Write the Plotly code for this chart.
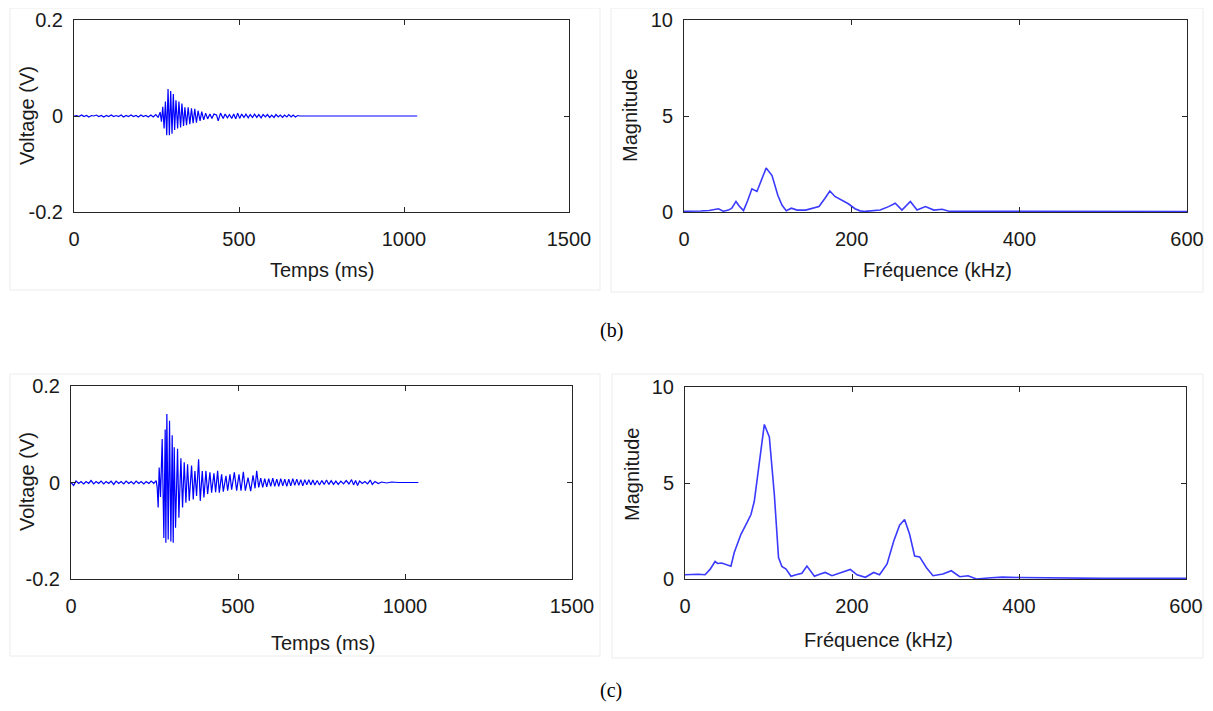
import plotly.graph_objects as go

# ---------------- data ----------------
# (b) time signal
t_b = [0, 8, 15, 23, 30, 38, 45, 53, 60, 68,
       75, 83, 90, 98, 105, 113, 120, 128, 135, 143,
       150, 158, 165, 173, 180, 188, 195, 203, 210, 218,
       225, 233, 240, 248, 255,
       261, 265, 269, 273, 277, 281, 285, 289, 293, 297,
       301, 305, 309, 314, 318, 323, 327, 332, 336, 341,
       346, 351, 356, 361, 366, 371, 376, 382, 387, 393,
       399, 405, 412, 418, 424, 432, 437, 444, 452, 458,
       465, 471, 478, 484, 490, 496, 502, 508, 515, 521,
       528, 534, 541, 547, 554, 560, 567, 573, 580, 586,
       593, 599, 606, 612, 619, 625, 632, 638, 645, 651,
       658, 664, 671, 678, 685, 700, 800, 900, 1040]
v_b = [0, 0.001, -0.001, 0.002, -0.001, 0.001, -0.002, 0.001, 0, 0.002,
       -0.001, 0.001, -0.002, 0.001, -0.001, 0.002, -0.001, 0.001, -0.001, 0.002,
       -0.002, 0.001, -0.001, 0.002, -0.001, 0.001, -0.002, 0.002, -0.001, 0.001,
       -0.002, 0.002, -0.002, 0.003, -0.003,
       0.008, -0.012, 0.019, -0.026, 0.030, -0.040, 0.056, -0.040, 0.052, -0.037,
       0.046, -0.029, 0.033, -0.026, 0.030, -0.024, 0.026, -0.021, 0.018, -0.019,
       0.018, -0.017, 0.016, -0.015, 0.015, -0.014, 0.011, -0.010, 0.009, -0.008,
       0.006, -0.006, 0.004, -0.005, 0.004, 0.002, -0.010, 0.006, -0.005, 0.004,
       -0.004, 0.003, -0.005, 0.004, -0.006, 0.006, -0.005, 0.004, -0.003, 0.004,
       -0.004, 0.003, -0.003, 0.004, -0.003, 0.003, -0.004, 0.003, -0.002, 0.003,
       -0.003, 0.002, -0.003, 0.003, -0.002, 0.002, -0.003, 0.002, -0.002, 0.003,
       -0.002, 0.002, -0.002, 0.001, 0, 0, 0, 0, 0]

# (c) time signal
t_c = [0, 8, 15, 23, 30, 38, 45, 53, 60, 68,
       75, 83, 90, 98, 105, 113, 120, 128, 135, 143,
       150, 158, 165, 173, 180, 188, 195, 203, 210, 218,
       225, 233, 240, 248, 255,
       258, 261, 264, 268, 273, 278, 282, 284, 287, 291,
       295, 299, 303, 306, 309, 313, 319, 323, 329, 334,
       339, 344, 349, 354, 361, 366, 371, 376, 382, 387,
       393, 398, 404, 409, 416, 421, 428, 433, 439, 444,
       451, 456, 464, 469, 476, 481, 489, 496, 503, 509,
       516, 522, 530, 538, 545, 551, 556, 562, 568, 574,
       580, 586, 592, 598, 604, 610, 616, 622, 628, 634,
       640, 646, 652, 658, 664, 670, 676, 682, 688, 694,
       700, 706, 712, 718, 724, 730, 737, 744, 751, 758,
       765, 772, 779, 786, 793, 800, 808, 816, 824, 832,
       840, 846, 852, 858, 864, 872, 880, 888, 896, 902,
       910, 920, 930, 945, 960, 980, 1000, 1040]
v_c = [0, -0.006, 0.003, -0.002, 0.002, -0.003, 0.002, -0.002, 0.004, -0.003,
       0.002, -0.002, 0.003, -0.003, 0.002, -0.002, 0.003, -0.004, 0.003, -0.002,
       0.002, -0.003, 0.003, -0.002, 0.002, -0.003, 0.003, -0.002, 0.002, -0.003,
       0.002, -0.002, 0.003, -0.002, 0.004,
       -0.010, -0.052, 0.031, -0.030, 0.090, -0.115, 0.110, -0.125, 0.142, -0.118,
       0.128, -0.122, 0.098, -0.125, 0.073, -0.094, 0.070, -0.073, 0.050, -0.052,
       0.042, -0.042, 0.038, -0.038, 0.035, -0.035, 0.024, -0.028, 0.048, -0.038,
       0.024, -0.031, 0.024, -0.024, 0.021, -0.021, 0.019, -0.020, 0.024, -0.021,
       0.017, -0.019, 0.014, -0.017, 0.017, -0.015, 0.021, -0.017, 0.017, -0.017,
       0.022, -0.017, 0.010, -0.018, 0.015, -0.012, 0.024, -0.010, 0.009, -0.010,
       0.008, -0.009, 0.008, -0.008, 0.009, -0.008, 0.007, -0.008, 0.008, -0.007,
       0.007, -0.008, 0.007, -0.007, 0.008, -0.006, 0.007, -0.006, 0.006, -0.007,
       0.006, -0.005, 0.006, -0.005, 0.005, -0.005, 0.004, -0.005, 0.004, -0.004,
       0.005, -0.004, 0.004, -0.004, 0.003, -0.004, 0.003, -0.003, 0.004, -0.003,
       0.006, -0.005, 0.004, -0.006, 0.003, -0.002, 0.002, -0.003, 0.005, -0.004,
       0.002, -0.002, 0.001, -0.001, 0.001, 0, 0, 0]

# (b) spectrum
f_b = [0, 10, 20, 30, 36, 41, 47, 53, 57, 62,
       66, 71, 76, 81, 87, 92, 98, 105, 112, 117,
       122, 128, 135, 145, 153, 161, 168, 174, 180, 188,
       196, 204, 210, 216, 225, 234, 244, 252, 260, 270,
       278, 288, 298, 308, 317, 330, 350, 380, 400, 450,
       500, 550, 600]
m_b = [0.04, 0.04, 0.05, 0.08, 0.12, 0.17, 0.04, 0.1, 0.2, 0.55,
       0.3, 0.07, 0.6, 1.21, 1.07, 1.6, 2.29, 1.9, 0.86, 0.35,
       0.07, 0.2, 0.1, 0.1, 0.2, 0.29, 0.7, 1.09, 0.81, 0.6,
       0.43, 0.17, 0.06, 0.03, 0.06, 0.1, 0.28, 0.46, 0.1, 0.55,
       0.1, 0.28, 0.1, 0.14, 0.03, 0.04, 0.03, 0.04, 0.03, 0.02,
       0.02, 0.02, 0.02]

# (c) spectrum
f_c = [0, 8, 16, 24, 30, 36, 39, 44, 50, 55,
       59, 67, 75, 79, 83, 89, 95, 101, 107, 112,
       116, 121, 127, 133, 140, 146, 151, 155, 162, 168,
       176, 184, 191, 198, 206, 216, 226, 233, 242, 250,
       257, 263, 269, 275, 281, 289, 297, 309, 319, 329,
       339, 349, 363, 380, 400, 450, 500, 550, 600]
m_c = [0.22, 0.24, 0.25, 0.22, 0.5, 0.91, 0.81, 0.83, 0.72, 0.67,
       1.38, 2.33, 3.0, 3.36, 4.05, 6.2, 8.05, 7.4, 4.4, 1.12,
       0.65, 0.52, 0.14, 0.22, 0.3, 0.67, 0.4, 0.14, 0.26, 0.34,
       0.17, 0.3, 0.38, 0.5, 0.22, 0.09, 0.34, 0.22, 0.78, 1.98,
       2.8, 3.1, 2.33, 1.2, 1.15, 0.6, 0.17, 0.26, 0.43, 0.12,
       0.17, 0.0, 0.05, 0.1, 0.08, 0.04, 0.03, 0.03, 0.03]

time_ticks = [0, 500, 1000, 1500]
volt_ticks = [-0.2, 0, 0.2]
volt_labels = ["-0.2", "0", "0.2"]
freq_ticks = [0, 200, 400, 600]
mag_ticks = [0, 5, 10]

assert len(t_b) == len(v_b), (len(t_b), len(v_b))
assert len(t_c) == len(v_c), (len(t_c), len(v_c))
assert len(f_b) == len(m_b)
assert len(f_c) == len(m_c)

# ---------------- figure ----------------
# page body has an 8px margin: the figure is shrunk and positions are offset
OFF = 8
W, H = 1213 - 2 * OFF, 711 - 2 * OFF


def px(x):
    return (x - OFF) / W


def py(y):
    return 1 - (y - OFF) / H


fig = go.Figure()
fig.add_trace(go.Scatter(x=t_b, y=v_b, mode="lines", line=dict(color="#0000ff", width=1.2),
                         xaxis="x", yaxis="y", showlegend=False))
fig.add_trace(go.Scatter(x=f_b, y=m_b, mode="lines", line=dict(color="#3a3aff", width=1.6),
                         xaxis="x2", yaxis="y2", showlegend=False))
fig.add_trace(go.Scatter(x=t_c, y=v_c, mode="lines", line=dict(color="#0000ff", width=1.2),
                         xaxis="x3", yaxis="y3", showlegend=False))
fig.add_trace(go.Scatter(x=f_c, y=m_c, mode="lines", line=dict(color="#3a3aff", width=1.6),
                         xaxis="x4", yaxis="y4", showlegend=False))

AX = "#262626"
FONT = "Arial, Liberation Sans, sans-serif"
base = dict(showline=True, linecolor=AX, linewidth=1, mirror="ticks", ticks="inside",
            ticklen=5, tickcolor=AX, showgrid=False, zeroline=False, automargin=False,
            ticklabeloverflow="allow",
            tickfont=dict(family=FONT, size=20, color="#1a1a1a"))


def xax(dom, rng, tv, anchor):
    d = dict(base)
    d.update(domain=dom, range=rng, tickvals=tv, anchor=anchor, ticklabelstandoff=9)
    return d


def yax(dom, rng, tv, tt, anchor):
    d = dict(base)
    d.update(domain=dom, range=rng, tickvals=tv, ticktext=tt, anchor=anchor, ticklabelstandoff=6)
    return d


fig.update_layout(
    width=W, height=H, margin=dict(l=0, r=0, t=0, b=0, autoexpand=False),
    paper_bgcolor="white", plot_bgcolor="white",
    xaxis=xax([px(74), px(569)], [0, 1500], time_ticks, "y"),
    yaxis=yax([py(212), py(20)], [-0.2, 0.2], volt_ticks, volt_labels, "x"),
    xaxis2=xax([px(684), px(1187)], [0, 600], freq_ticks, "y2"),
    yaxis2=yax([py(212), py(20)], [0, 10], mag_ticks, None, "x2"),
    xaxis3=xax([px(71), px(572)], [0, 1500], time_ticks, "y3"),
    yaxis3=yax([py(579), py(386)], [-0.2, 0.2], volt_ticks, volt_labels, "x3"),
    xaxis4=xax([px(685), px(1186)], [0, 600], freq_ticks, "y4"),
    yaxis4=yax([py(579), py(387)], [0, 10], mag_ticks, None, "x4"),
)

# faint panel frames
for (x0, y0, x1, y1) in [(10, 8, 600, 290), (611, 8, 1203, 292),
                         (10, 374, 600, 656), (612, 374, 1203, 658)]:
    fig.add_shape(type="rect", xref="paper", yref="paper",
                  x0=px(x0), x1=px(x1), y0=py(y1), y1=py(y0),
                  line=dict(color="#ececec", width=1), fillcolor="rgba(0,0,0,0)", layer="below")

tf = dict(family=FONT, size=20, color="#1a1a1a")
ann = [
    ("Temps (ms)", 322, 270, 0),
    ("Fréquence (kHz)", 937, 270, 0),
    ("Temps (ms)", 323, 643, 0),
    ("Fréquence (kHz)", 878, 640, 0),
    ("Voltage (V)", 27, 116, -90),
    ("Magnitude", 630, 116, -90),
    ("Voltage (V)", 27, 482, -90),
    ("Magnitude", 632, 475, -90),
]
for text, x, y, ang in ann:
    fig.add_annotation(text=text, x=px(x), y=py(y), xref="paper", yref="paper",
                       showarrow=False, textangle=ang, font=tf,
                       xanchor="center", yanchor="middle")

for text, y in [("(b)", 330), ("(c)", 690)]:
    fig.add_annotation(text=text, x=px(611), y=py(y), xref="paper", yref="paper",
                       showarrow=False,
                       font=dict(family="Liberation Serif, Times New Roman, serif", size=20, color="black"),
                       xanchor="center", yanchor="middle")

fig.write_html("out.html")
